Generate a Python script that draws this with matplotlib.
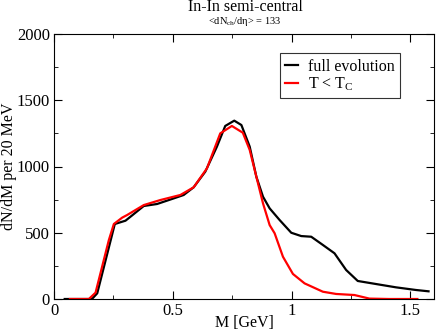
import matplotlib
matplotlib.use("Agg")
import matplotlib.pyplot as plt
from matplotlib.ticker import MultipleLocator, FuncFormatter

plt.rcParams['font.family'] = ['Liberation Serif', 'DejaVu Serif']
plt.rcParams['mathtext.fontset'] = 'custom'
plt.rcParams['mathtext.rm'] = 'Liberation Serif'
plt.rcParams['mathtext.it'] = 'Liberation Serif'

full_m = [0.045, 0.16, 0.182, 0.256, 0.301, 0.322, 0.378, 0.434, 0.497, 0.546, 0.588,
          0.637, 0.686, 0.721, 0.759, 0.789, 0.824, 0.852, 0.880, 0.908, 0.950, 0.999,
          1.041, 1.083, 1.132, 1.181, 1.230, 1.279, 1.356, 1.44, 1.524, 1.577]
full_y = [0, 0, 43, 566, 591, 621, 702, 717, 755, 785, 843,
          961, 1150, 1306, 1346, 1313, 1150, 923, 772, 684, 596, 500,
          475, 470, 408, 345, 219, 136, 113, 88, 68, 58]

tc_m = [0.067, 0.147, 0.175, 0.231, 0.252, 0.287, 0.308, 0.378, 0.448, 0.532, 0.588,
        0.644, 0.700, 0.749, 0.795, 0.824, 0.852, 0.880, 0.908, 0.929, 0.964, 1.006,
        1.055, 1.132, 1.188, 1.265, 1.328, 1.41, 1.53]
tc_y = [0, 0, 48, 445, 566, 614, 634, 709, 747, 785, 843,
        986, 1250, 1306, 1255, 1125, 923, 722, 558, 496, 319, 189,
        118, 55, 38, 30, 3, 0, 0]

fig = plt.figure(figsize=(4.36, 3.34), dpi=100)
ax = fig.add_axes([54/436, 35/334, 380/436, 265/334])
ax.plot(full_m, full_y, color='black', lw=1.6, label='full evolution')
ax.plot(tc_m, tc_y, color='#ff0000', lw=1.6, label=r'T < T$_{\mathrm{C}}$')
ax.set_xlim(0, 1.6)
ax.set_ylim(0, 2000)
ax.xaxis.set_major_locator(MultipleLocator(0.5))
ax.xaxis.set_minor_locator(MultipleLocator(0.25))
ax.yaxis.set_major_locator(MultipleLocator(500))
ax.yaxis.set_minor_locator(MultipleLocator(250))
ax.xaxis.set_major_formatter(FuncFormatter(lambda v, p: f"{v:g}"))
ax.tick_params(which='both', direction='in', top=True, right=True, labelsize=12)
ax.tick_params(which='major', length=6, pad=3)
ax.tick_params(which='minor', length=3)
ax.set_xlabel('M [GeV]', fontsize=11.5)
ax.set_ylabel('dN/dM per 20 MeV', fontsize=11.5)
ax.xaxis.set_label_coords(0.5, -0.062)
ax.yaxis.set_label_coords(-0.098, 0.5)
fig.text(245/436, 1 - 7/334, 'In-In semi-central', ha='center', va='center', fontsize=11.5)
fig.text(245/436, 1 - 21/334, r'<dN$_{\mathrm{ch}}$/dη> = 133', ha='center', va='center', fontsize=7.5)
leg = ax.legend(loc='upper right', bbox_to_anchor=((400 - 54) / 380, 1 - 19/265), bbox_transform=ax.transAxes,
                fontsize=11.5, frameon=True, fancybox=False, handlelength=0.8, handletextpad=0.6,
                borderpad=0.35, labelspacing=0.05, borderaxespad=0)
leg.get_frame().set_edgecolor('black')
leg.get_frame().set_linewidth(0.8)
fig.savefig('out.png', dpi=100)
